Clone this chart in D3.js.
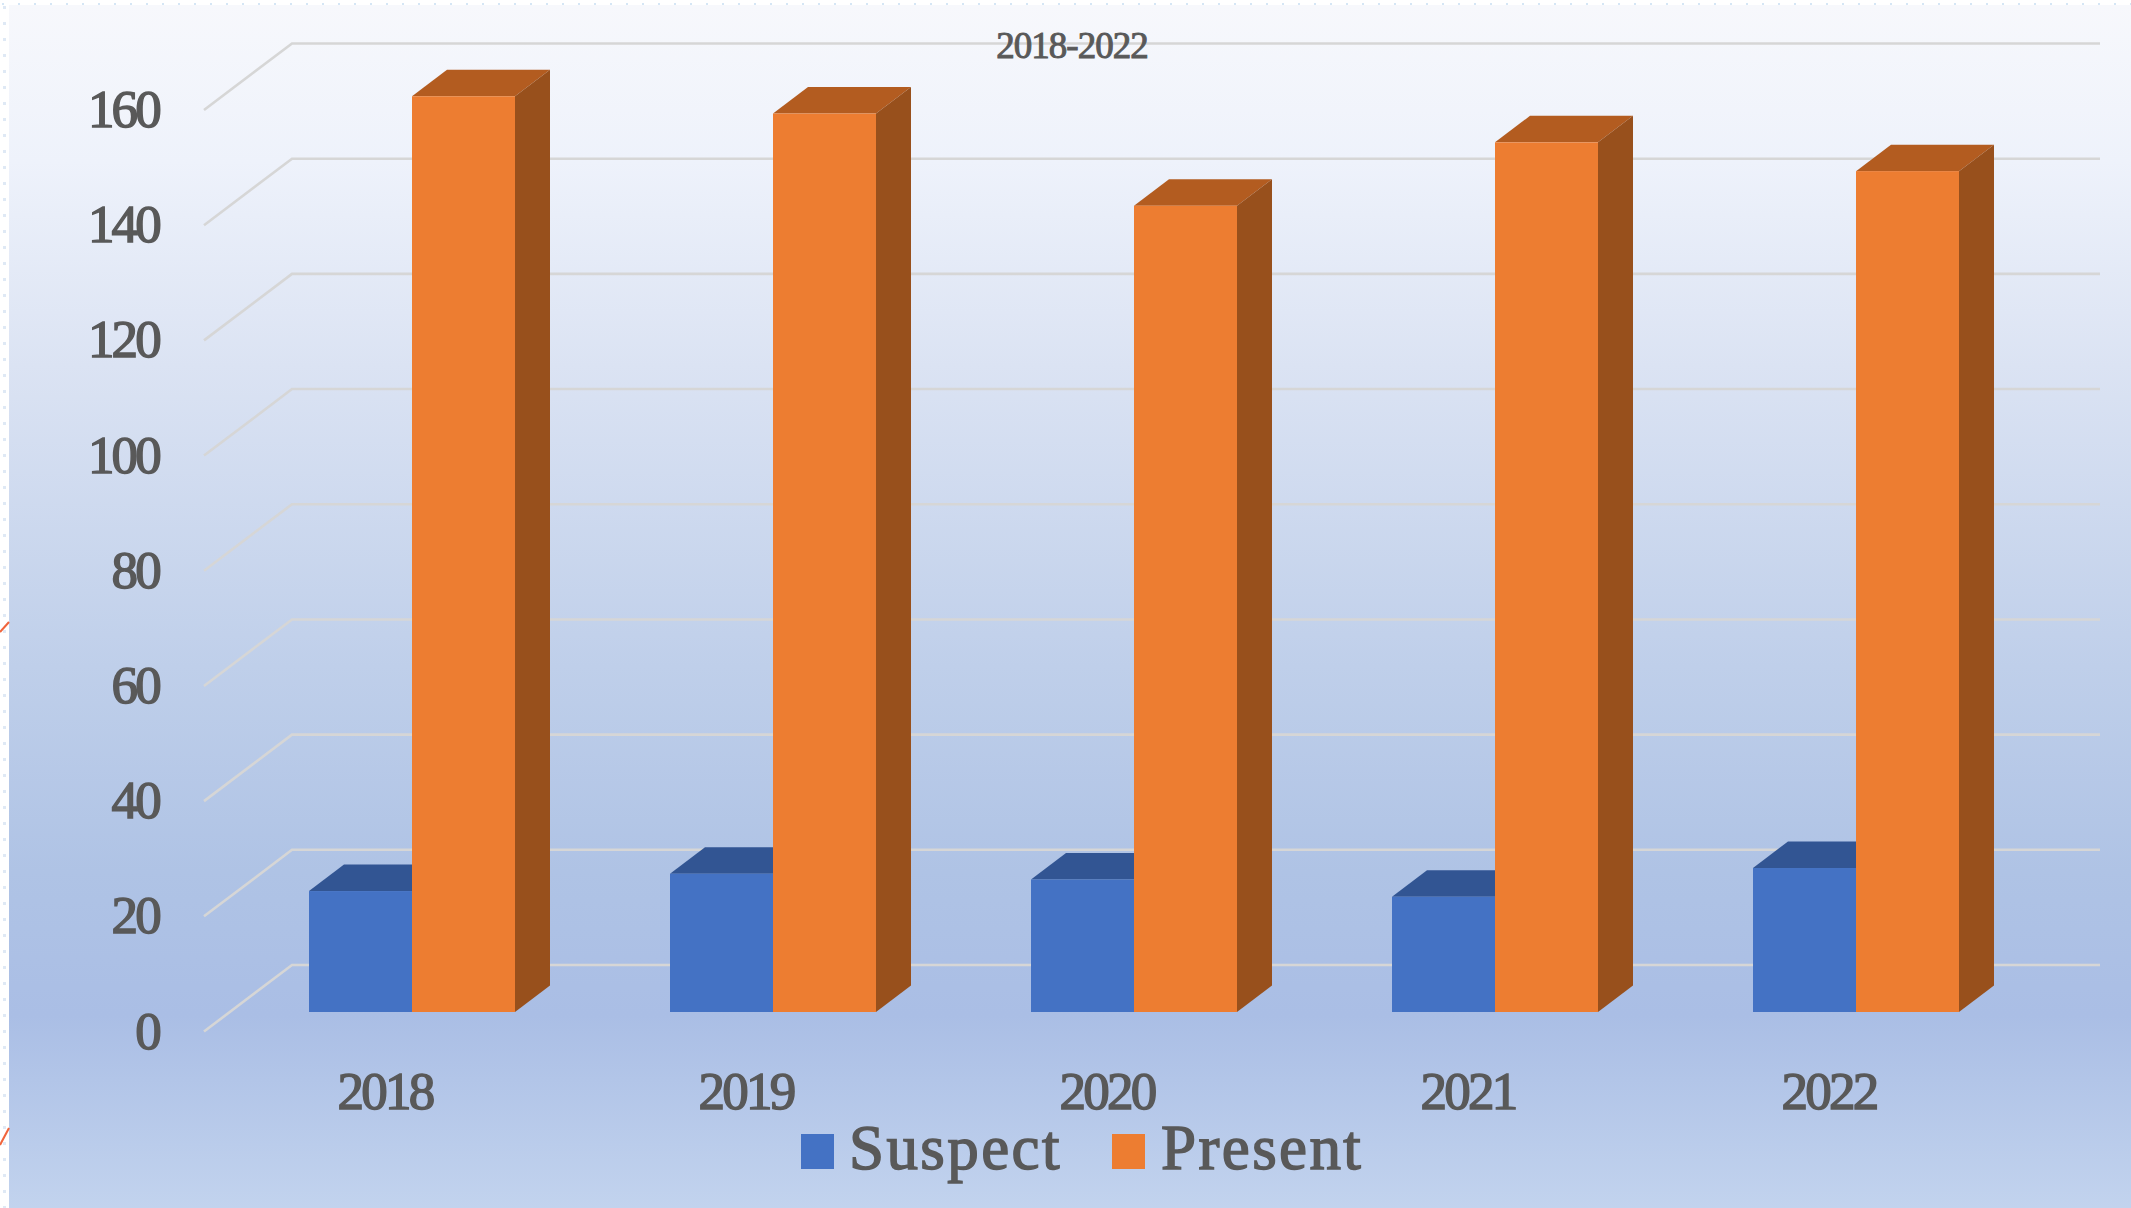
<!DOCTYPE html>
<html><head><meta charset="utf-8">
<script src="https://cdn.jsdelivr.net/npm/d3@7"></script>
<style>html,body{margin:0;padding:0;background:#fff;overflow:hidden}svg{display:block}
text{font-family:"Liberation Serif",serif;fill:#595959;stroke:#595959;stroke-width:1.5px;font-weight:normal}</style>
</head><body><script>
const categories = ["2018","2019","2020","2021","2022"];
const suspect = [21,24,23,20,25];
const present = [159,156,140,151,146];
const yTicks = [0,20,40,60,80,100,120,140,160];
const seriesNames = ["Suspect","Present"];
const title = "2018-2022";

const W=2131,H=1208;
const svg=d3.select("body").append("svg").attr("width",W).attr("height",H);
const defs=svg.append("defs");
const g=defs.append("linearGradient").attr("id","bg").attr("x1",0).attr("x2",0).attr("y1",0).attr("y2",1);
[[0,"#f7f8fc"],[0.13,"#eef2fb"],[0.3,"#dbe3f3"],[0.55,"#bfcfea"],[0.72,"#afc3e5"],[0.84,"#aabee5"],[1,"#c2d3ee"]]
 .forEach(d=>g.append("stop").attr("offset",d[0]).attr("stop-color",d[1]));
const p=defs.append("pattern").attr("id","dotsT").attr("width",16).attr("height",5).attr("patternUnits","userSpaceOnUse");
p.append("rect").attr("x",2).attr("y",3).attr("width",2).attr("height",2).attr("fill","#d5e6f5");
const q=defs.append("pattern").attr("id","dotsL").attr("width",9).attr("height",16).attr("patternUnits","userSpaceOnUse");
q.append("rect").attr("x",3).attr("y",6).attr("width",3).attr("height",3).attr("fill","#dfe9f5");
svg.append("rect").attr("width",W).attr("height",5).attr("fill","url(#dotsT)");
svg.append("rect").attr("y",5).attr("width",9).attr("height",H).attr("fill","url(#dotsL)");
svg.append("rect").attr("x",9).attr("y",5).attr("width",W-9).attr("height",H-5).attr("fill","url(#bg)");
// stray connector fragments at the left margin
[[0,632,9,622],[0,1145,9,1128]].forEach(d=>svg.append("line").attr("x1",d[0]).attr("y1",d[1]).attr("x2",d[2]).attr("y2",d[3]).attr("stroke","#f0643c").attr("stroke-width",2));

// floor depth offsets
const dxWall=88, dyWall=66.5, dxBar=35, dyBar=26.5;
const y=d3.scaleLinear().domain([0,160]).range([965,43.5]);
const xLeft=204, xBack=xLeft+dxWall, xRight=2100;
svg.append("g").selectAll("path").data(yTicks).join("path")
 .attr("d",d=>`M${xLeft},${y(d)+dyWall}L${xBack},${y(d)}L${xRight},${y(d)}`)
 .attr("fill","none").attr("stroke","#d6d6d6").attr("stroke-width",2.6);

const axis=d3.axisLeft(d3.scaleLinear().domain([0,160]).range([965+dyWall,43.5+dyWall])).tickValues(yTicks).tickSize(0).tickPadding(0);
const ax=svg.append("g").attr("transform","translate(159,-1)").call(axis);
ax.select(".domain").remove();
ax.selectAll("text").attr("font-size",53).attr("letter-spacing",-2.8).attr("dy","0.33em").style("font-family",'"Liberation Serif",serif');

const x0=d3.scaleBand().domain(categories).range([309,309+361*5]).paddingInner(0).paddingOuter(0);
const barW=103, base=1012;
const h=v=>y(0)-y(v);
const groups=svg.append("g").selectAll("g").data(categories).join("g");
function bar(sel,val,off,front,top,side){
  const x=off, yt=base-h(val);
  sel.append("path").attr("d",`M${x},${yt}L${x+dxBar},${yt-dyBar}L${x+barW+dxBar},${yt-dyBar}L${x+barW},${yt}Z`).attr("fill",top);
  sel.append("path").attr("d",`M${x+barW},${yt}L${x+barW+dxBar},${yt-dyBar}L${x+barW+dxBar},${base-dyBar}L${x+barW},${base}Z`).attr("fill",side);
  sel.append("rect").attr("x",x).attr("y",yt).attr("width",barW).attr("height",base-yt).attr("fill",front);
}
groups.each(function(c,i){
  const s=d3.select(this), x=x0(c);
  bar(s,suspect[i],x,"#4472c4","#325593","#2f5290");
  bar(s,present[i],x+barW,"#ed7d31","#b35c20","#98501c");
});
svg.append("g").selectAll("text").data(categories).join("text")
 .attr("x",d=>x0(d)+barW-27).attr("y",1109).attr("text-anchor","middle").attr("font-size",53).attr("letter-spacing",-2.8).text(d=>d);
svg.append("text").attr("x",1072).attr("y",58).attr("text-anchor","middle").attr("font-size",37).attr("letter-spacing",-1).style("stroke-width","1px").text(title);

// legend
const lx=[801,1112], colors=["#4472c4","#ed7d31"], tx=[849,1161];
seriesNames.forEach((n,i)=>{
  svg.append("rect").attr("x",lx[i]).attr("y",1134).attr("width",33).attr("height",35).attr("fill",colors[i]);
  svg.append("text").attr("x",tx[i]).attr("y",1169).attr("font-size",63).attr("letter-spacing",2.4).text(n);
});
</script></body></html>
